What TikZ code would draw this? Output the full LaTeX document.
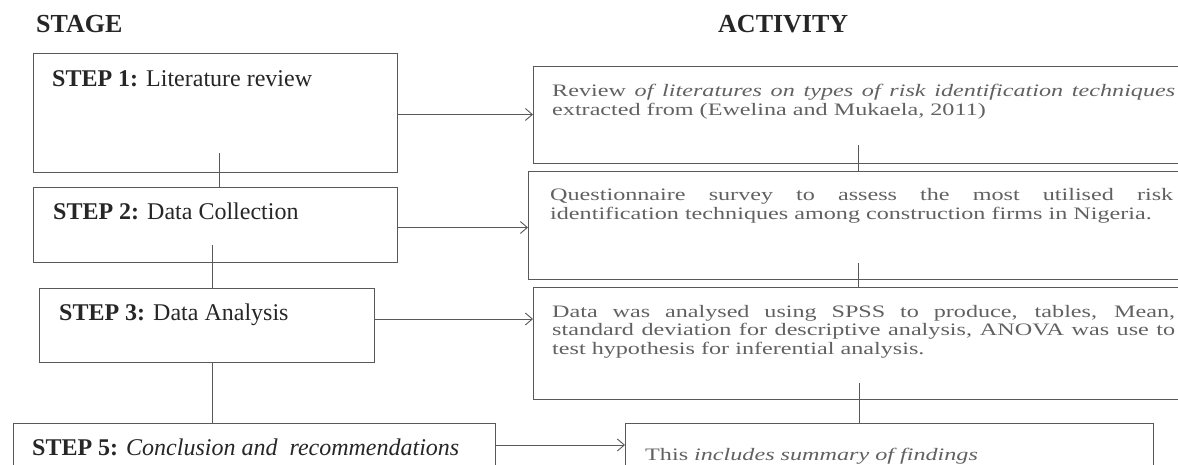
\documentclass[tikz,border=0pt]{standalone}
\usepackage{fontspec}
\setmainfont{Liberation Serif}
\newfontfamily\actfont[FakeStretch=1.38]{Liberation Serif}
\usetikzlibrary{arrows.meta}
\begin{document}
\begin{tikzpicture}[x=1pt,y=-1pt,
  boxstyle/.style={draw=black!65,line width=0.9pt,rectangle,inner sep=0pt,outer sep=0pt},
  arr/.style={draw=black!65,line width=0.9pt,-{Straight Barb[length=7pt,width=12pt]}},
  ln/.style={draw=black!65,line width=0.9pt},
  head/.style={font=\fontsize{26}{30}\selectfont\bfseries,text=black!85,inner sep=0pt,anchor=base west},
  steptext/.style={font=\fontsize{24}{28}\selectfont,text=black!85,inner sep=0pt,anchor=base west},
  acttext/.style={font=\actfont\fontsize{17.5}{18.7}\selectfont,text=black!62,inner sep=0pt,anchor=base west}]
\useasboundingbox (0,0) rectangle (1178,465);
\clip (0,0) rectangle (1178,465);

% headings
\node[head] (stage) at (36,33) {STAGE};
\node[head] (activity) at (718,33) {ACTIVITY};

% stage boxes
\node[boxstyle,minimum width=364pt,minimum height=119pt] (step1) at (215,112.5) {};
\node[boxstyle,minimum width=364pt,minimum height=75pt] (step2) at (215,224.5) {};
\node[boxstyle,minimum width=335pt,minimum height=74pt] (step3) at (206.5,325) {};
\node[boxstyle,minimum width=482pt,minimum height=44pt] (step5) at (254,445) {};

% activity boxes
\node[boxstyle,minimum width=667pt,minimum height=97pt] (act1) at (866.5,114.5) {};
\node[boxstyle,minimum width=672pt,minimum height=108pt] (act2) at (864,225) {};
\node[boxstyle,minimum width=667pt,minimum height=112pt] (act3) at (866.5,343) {};
\node[boxstyle,minimum width=528pt,minimum height=44pt] (act5) at (889,445) {};

% stage texts
\node[steptext] (t1) at (52,87) {\textbf{STEP 1:} Literature review};
\node[steptext] (t2) at (53,220) {\textbf{STEP 2:} Data Collection};
\node[steptext] (t3) at (59,320) {\textbf{STEP 3:} Data Analysis};
\node[steptext] (t5) at (32,455) {\textbf{STEP 5:} \textit{Conclusion and\ \ recommendations}};

% activity texts
\node[acttext] (a1) at (552,97) {\vtop{%
  \hbox{\makebox[623pt][s]{Review \textit{of literatures on types of risk identification techniques}}}%
  \hbox{extracted from (Ewelina and Mukaela, 2011)}}};
\node[acttext] (a2) at (550,201) {\vtop{%
  \hbox{\makebox[623pt][s]{Questionnaire survey to assess the most utilised risk}}%
  \hbox{identification techniques among construction firms in Nigeria.}}};
\node[acttext] (a3) at (552,317) {\vtop{%
  \hbox{\makebox[623pt][s]{Data was analysed using SPSS to produce, tables, Mean,}}%
  \hbox{\makebox[623pt][s]{standard deviation for descriptive analysis, ANOVA was use to}}%
  \hbox{test hypothesis for inferential analysis.}}};
\node[acttext] (a5) at (645,460) {This \textit{includes summary of findings}};

% horizontal arrows
\draw[arr] (step1.east |- act1.west) -- (act1.west);
\draw[arr] ([yshift=-3pt]step2.east) -- ([yshift=-3pt]step2.east -| act2.west);
\draw[arr] ([yshift=6pt]step3.east) -- ([yshift=6pt]step3.east -| act3.west);
\draw[arr] (step5.east) -- (step5.east -| act5.west);

% vertical stage connectors
\coordinate (c12) at (219,153);
\draw[ln] (c12) -- (c12 |- step2.north);
\coordinate (c23) at (212,245);
\draw[ln] (c23) -- (c23 |- step3.north);
\draw[ln] (c23 |- step3.south) -- (c23 |- step5.north);

% vertical activity connectors
\coordinate (d12) at (858,145);
\draw[ln] (d12) -- (d12 |- act2.north);
\coordinate (d23) at (858,263);
\draw[ln] (d23) -- (d23 |- act3.north);
\coordinate (d35) at (859,383);
\draw[ln] (d35) -- (d35 |- act5.north);
\end{tikzpicture}
\end{document}
